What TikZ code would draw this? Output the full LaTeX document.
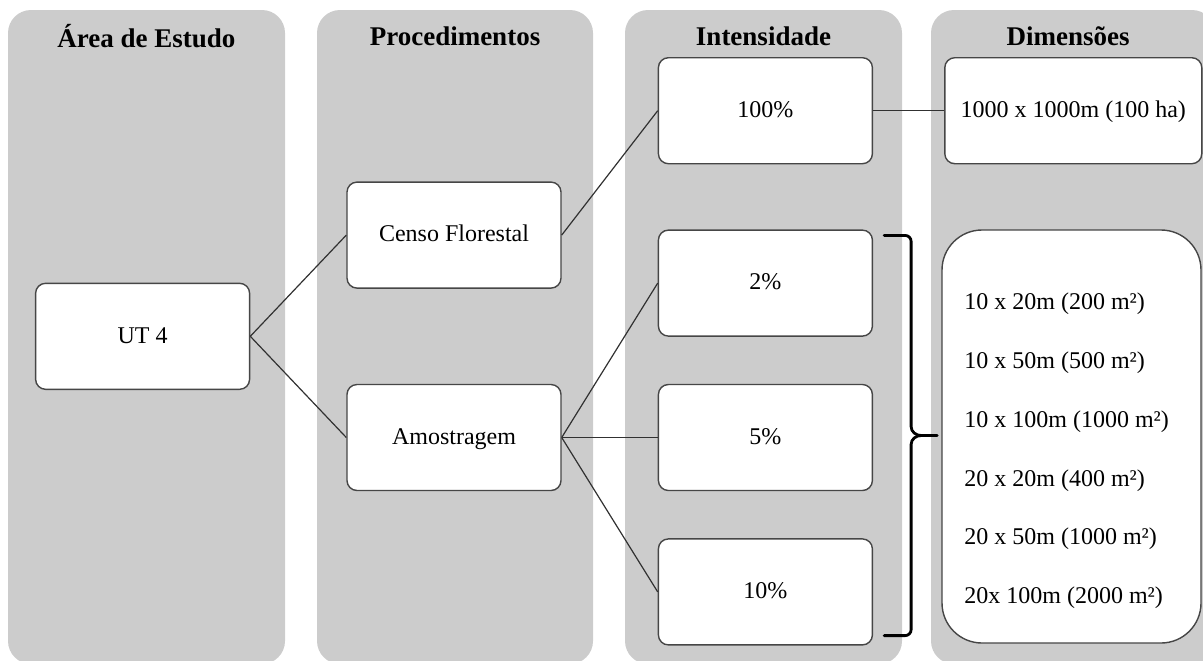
\documentclass[tikz,border=0pt]{standalone}
\usepackage{fontspec}
\setmainfont{Liberation Serif}
\usepackage{tikz}
\usetikzlibrary{positioning, calc}
\definecolor{panelgray}{RGB}{204,204,204}
\definecolor{edgegray}{RGB}{70,70,70}

\begin{document}
\begin{tikzpicture}[
    x=0.5pt, y=-0.5pt,
    panel/.style={fill=panelgray,rounded corners=11.5pt},
    headtxt/.style={font={\fontsize{13.5}{16}\selectfont\bfseries}},
    stepbox/.style={rectangle,draw=edgegray,fill=white,rounded corners=5pt,
        line width=0.7pt,minimum width=107pt,minimum height=53pt,
        text height=1.6ex,text depth=0.1ex,
        font={\fontsize{12}{14}\selectfont}},
    dimbox/.style={stepbox,minimum width=128.5pt},
    biglist/.style={rectangle,draw=edgegray,fill=white,rounded corners=20pt,
        line width=0.7pt,minimum width=129.5pt,minimum height=206.5pt},
    listtxt/.style={align=left,font={\fontsize{12}{29.4}\selectfont}},
    link/.style={draw=edgegray!70!black,line width=0.6pt},
    bracepath/.style={draw=black,line width=1.4pt,line cap=round}
]
\clip (0,0) rectangle (1203,660);
% grey columns
\foreach \xa/\xb in {8/285,317/593,625/902,931/1215}
    \fill[panel] (\xa,10) rectangle (\xb,664);
\node[headtxt] (hdarea) at (146.5,36) {Área de Estudo};
\node[headtxt] (hdproc) at (455,36) {Procedimentos};
\node[headtxt] (hdint) at (763.5,36) {Intensidade};
\node[headtxt] (hddim) at (1068,36) {Dimensões};
% procedures and study area
\node[stepbox] (amostra) at (454,437.5) {Amostragem};
\node[stepbox, above=47.5pt of amostra] (censo) {Censo Florestal};
\coordinate (utanchor) at ($(censo.west)!0.5!(amostra.west)$);
\node[stepbox, left=48pt of utanchor] (ut) {UT 4};
% intensities
\node[stepbox, right=48pt of amostra] (pct5) {5\%};
\node[stepbox, above=23.5pt of pct5] (pct2) {2\%};
\node[stepbox, below=23.5pt of pct5] (pct10) {10\%};
\node[stepbox, above=32.5pt of pct2] (pct100) {100\%};
% dimensions
\node[dimbox, right=35.5pt of pct100] (dim100) {1000 x 1000m (100 ha)};
\node[biglist] (dimbig) at (1071.5,436.5) {};
\node[listtxt, anchor=west] (dimlist) at ($(dimbig.west)+(16,14.5)$)
    {10 x 20m (200 m²)\\10 x 50m (500 m²)\\10 x 100m (1000 m²)\\
     20 x 20m (400 m²)\\20 x 50m (1000 m²)\\20x 100m (2000 m²)};
\draw[link] (ut.east) -- (censo.west);
\draw[link] (ut.east) -- (amostra.west);
\draw[link] (censo.east) -- (pct100.west);
\foreach \tgt in {pct2,pct5,pct10}
    \draw[link] (amostra.east) -- (\tgt.west);
\draw[link] (pct100) -- (dim100);
% brace from the sample intensities
\coordinate (bracetop) at ($(pct2.north east)+(11,6)$);
\coordinate (bracebot) at ($(pct10.south east)+(11,-10)$);
\coordinate (bracetip) at ($(bracetop)!0.5!(bracebot)+(53,0)$);
\draw[bracepath] (bracetop) -- ++(21,0) to[out=0,in=90] ++(6,6)
    -- ($(bracetip)+(-26,-9)$) to[out=-90,in=180] ($(bracetip)+(-16,0)$)
    -- (bracetip);
\draw[bracepath] (bracebot) -- ++(21,0) to[out=0,in=-90] ++(6,-6)
    -- ($(bracetip)+(-26,9)$) to[out=90,in=180] ($(bracetip)+(-16,0)$);
\end{tikzpicture}
\end{document}
